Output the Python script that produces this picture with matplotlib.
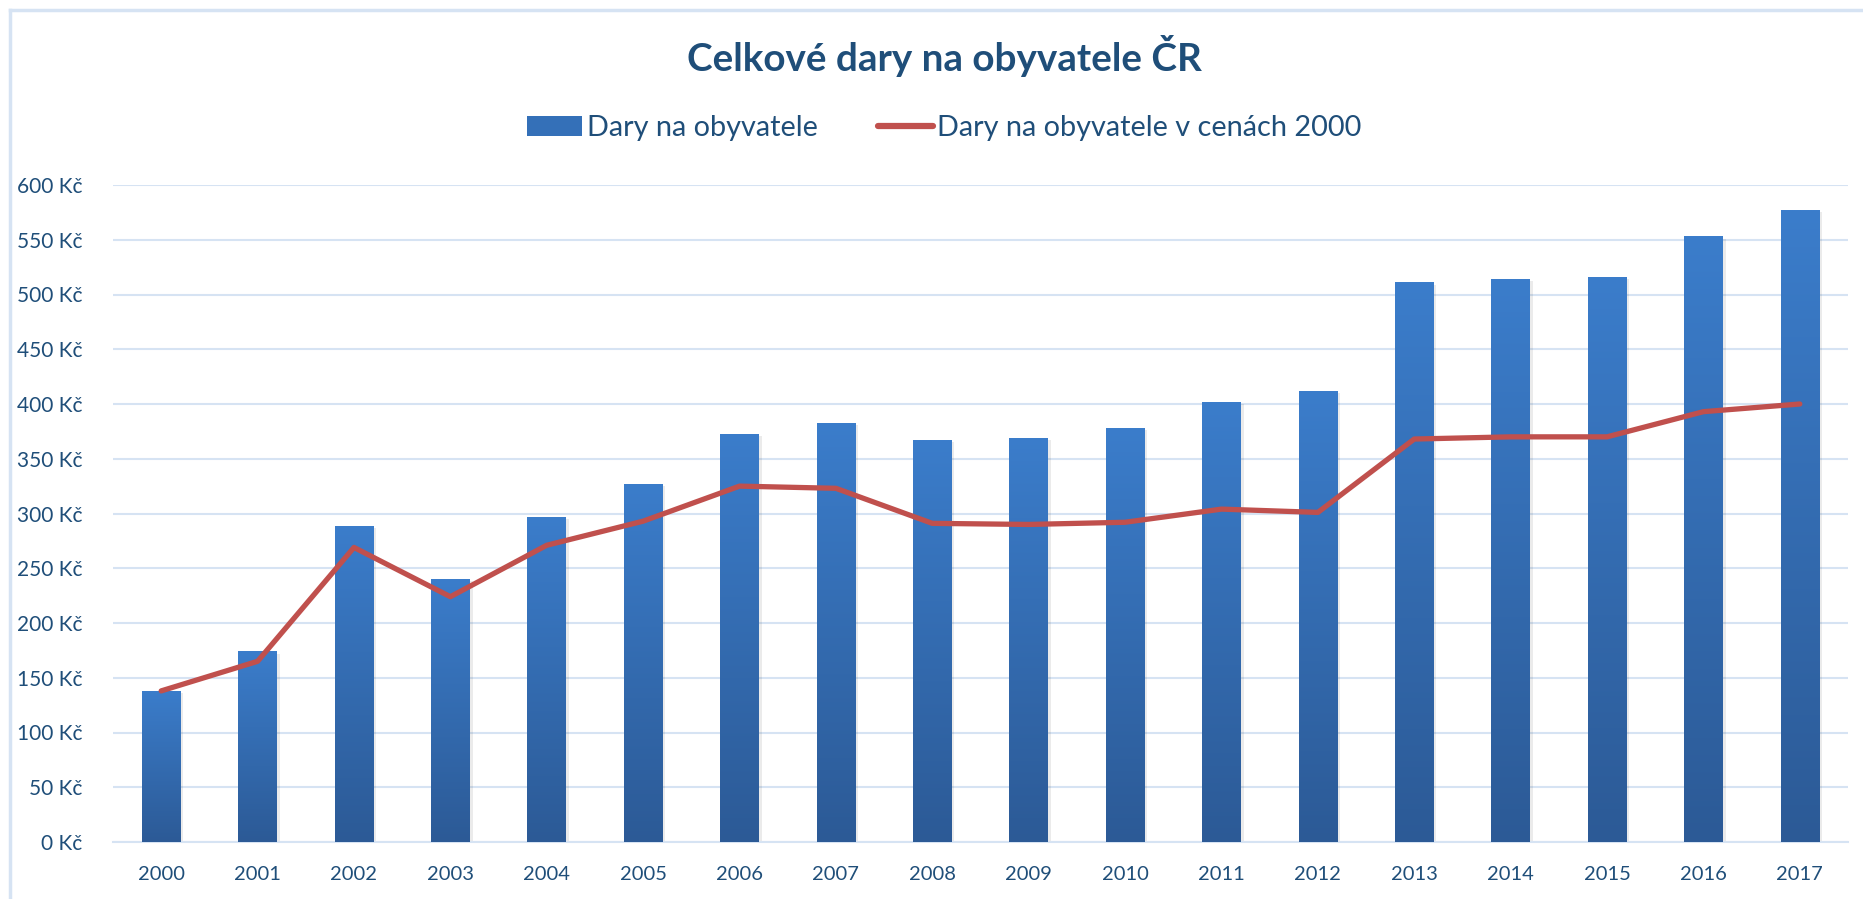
import numpy as np
import matplotlib
matplotlib.use("Agg")
import matplotlib.pyplot as plt
from matplotlib.patches import Patch
from matplotlib.lines import Line2D
from matplotlib.colors import LinearSegmentedColormap

# data
years = [str(y) for y in range(2000, 2018)]
dary = [138, 174, 289, 240, 297, 327, 373, 383, 367, 369, 378, 402, 412, 511, 514, 516, 553, 577]
dary_2000 = [138, 165, 269, 224, 271, 293, 325, 323, 291, 290, 292, 304, 301, 368, 370, 370, 393, 400]
yticks = list(range(0, 601, 50))

text_col = "#1F4E79"
grid_col = "#D6E3F3"
line_col = "#C0504D"

plt.rcParams["font.family"] = ["Lato", "DejaVu Sans"]

fig = plt.figure(figsize=(18.63, 8.99), dpi=100)
ax = fig.add_axes([113 / 1863, 1 - 842 / 899, (1848 - 113) / 1863, (842 - 185) / 899])

x = np.arange(len(years))
width = 0.4

# bars with vertical gradient (light top, dark bottom)
cmap = LinearSegmentedColormap.from_list("bar", ["#2C5A96", "#3B7DCB"])
grad = np.linspace(0, 1, 256).reshape(-1, 1)
bars = ax.bar(x, dary, width=width, color="none", zorder=3)
for rect, val in zip(bars, dary):
    x0 = rect.get_x()
    # soft shadow
    ax.bar(x0 + width / 2 + 0.03, val, width=width, bottom=-2, color="#000000",
           alpha=0.08, zorder=2, linewidth=0)
    im = ax.imshow(grad, extent=[x0, x0 + width, 0, val], origin="lower",
                   cmap=cmap, aspect="auto", zorder=3)
    im.set_clip_path(rect)

ax.plot(x, dary_2000, color=line_col, lw=3.8, solid_capstyle="round",
        solid_joinstyle="round", zorder=4)

ax.set_xlim(-0.5, len(years) - 0.5)
ax.set_ylim(0, 600)
ax.set_yticks(yticks)
ax.set_yticklabels(["{} Kč".format(v) for v in yticks])
ax.set_xticks(x)
ax.set_xticklabels(years)
ax.tick_params(axis="both", length=0, labelsize=14.5, labelcolor=text_col)
ax.tick_params(axis="y", labelsize=15, pad=22)
ax.tick_params(axis="x", pad=17)
ax.yaxis.grid(True, color=grid_col, lw=1.5, zorder=0)
ax.set_axisbelow(True)
for s in ["top", "right", "left"]:
    ax.spines[s].set_visible(False)
ax.spines["bottom"].set_color(grid_col)
ax.spines["bottom"].set_linewidth(1.5)

fig.text(0.507, 1 - 56 / 899, "Celkové dary na obyvatele ČR", ha="center", va="center",
         fontsize=27.8, fontweight="bold", color=text_col)

handles = [Patch(facecolor="#3470B8", edgecolor="none"),
           Line2D([0], [0], color=line_col, lw=4.5, solid_capstyle="round")]
leg = fig.legend(handles, ["Dary na obyvatele", "Dary na obyvatele v cenách 2000"],
                 loc="center", bbox_to_anchor=(0.507, 1 - 128 / 899), ncol=2, frameon=False,
                 fontsize=20.8, handlelength=1.9, handletextpad=0.15, columnspacing=2.1)
for t in leg.get_texts():
    t.set_color(text_col)

# chart border (left and top visible in the crop)
fig.add_artist(Line2D([10 / 1863, 10 / 1863], [0, 1 - 10 / 899], color=grid_col, lw=2.5,
                      transform=fig.transFigure))
fig.add_artist(Line2D([10 / 1863, 1], [1 - 10 / 899, 1 - 10 / 899], color=grid_col, lw=2.5,
                      transform=fig.transFigure))

fig.savefig("out.png", dpi=100)
